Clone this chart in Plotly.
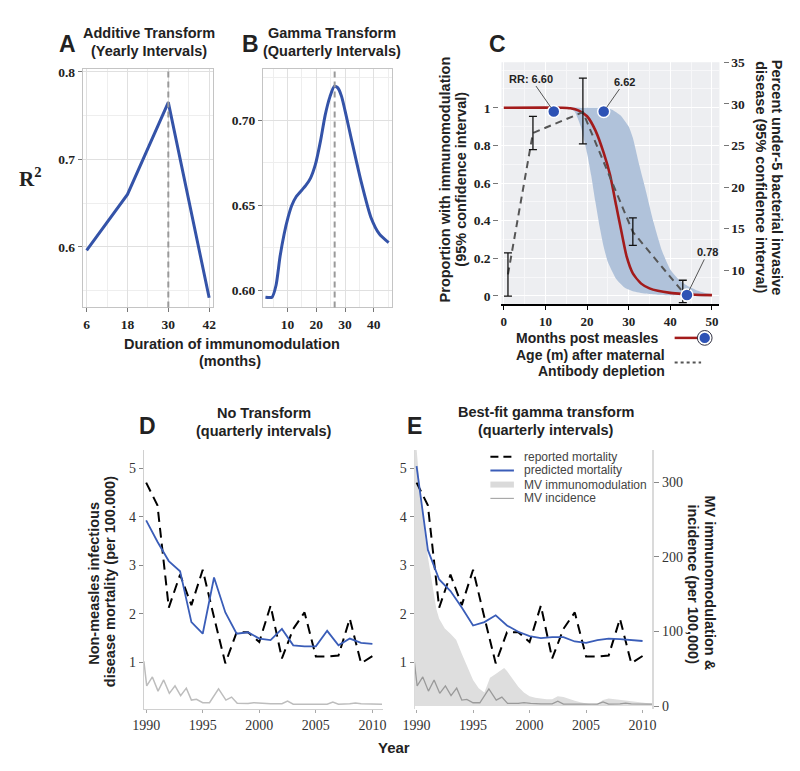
import plotly.graph_objects as go

W, H = 800, 771
OFF = 8  # page body margin shifts the figure by 8px


def PX(p): return (p - OFF) / W
def PY(p): return 1 - (p - OFF) / H


# ---------------- Panel A: additive transform (yearly intervals) ----------------
a_duration = [6, 18, 30, 42]
a_r2 = [0.596, 0.660, 0.765, 0.542]
a_best = 30
a_xticks = [6, 18, 30, 42]
a_xminor = [12, 24, 36]
a_yticks = [0.6, 0.7, 0.8]
a_yminor = [0.55, 0.65, 0.75]

# ---------------- Panel B: gamma transform (quarterly intervals) ----------------
b_duration = [2.3, 4.6, 6.0, 7.4, 8.8, 10.2, 11.5, 13.0, 16.3, 18.0, 19.7, 21.5, 23.1,
              24.8, 26.3, 27.5, 28.8, 30.5, 32.2, 35.6, 39.0, 42.0, 45.2]
b_r2 = [0.596, 0.596, 0.603, 0.620, 0.633, 0.643, 0.650, 0.655, 0.6615, 0.666, 0.674,
        0.688, 0.703, 0.714, 0.720, 0.719, 0.714, 0.702, 0.689, 0.664, 0.643, 0.633, 0.628]
b_best = 26.4
b_xticks = [10, 20, 30, 40]
b_xminor = [5, 15, 25, 35, 45]
b_yticks = [0.60, 0.65, 0.70]
b_yminor = [0.625, 0.675, 0.725]

# ---------------- Panel C ----------------
c_red_x = [0, 14, 16, 18, 20, 22, 24, 25.5, 27, 28, 29.5, 31, 33, 35, 37, 40, 43, 46, 50]
c_red_y = [1, 1, 0.997, 0.985, 0.955, 0.88, 0.76, 0.645, 0.48, 0.37, 0.21, 0.12, 0.065,
           0.04, 0.027, 0.016, 0.01, 0.006, 0.004]
c_up_x = [15.5, 20, 24, 26, 28, 30, 31, 32.5, 34, 36, 38, 40, 42, 44, 46, 48, 50]
c_up_y = [1, 1, 1, 0.99, 0.96, 0.90, 0.84, 0.70, 0.57, 0.39, 0.24, 0.14, 0.087, 0.055,
          0.033, 0.018, 0.008]
c_lo_x = [15.5, 17, 18.5, 20, 21, 22, 23, 24, 25, 27, 29, 31, 34, 37, 40, 50]
c_lo_y = [1, 0.98, 0.9, 0.76, 0.64, 0.5, 0.37, 0.26, 0.18, 0.09, 0.045, 0.025, 0.012,
          0.006, 0.003, 0]
c_age = [1, 7, 19, 31, 43]
c_pct = [9.5, 26.5, 29.0, 14.6, 7.4]
c_pct_hi = [12.1, 28.5, 33.1, 16.3, 8.8]
c_pct_lo = [6.9, 24.5, 25.2, 13.0, 6.1]
c_mark_x = [12, 24, 44]
c_mark_y = [0.98, 0.98, 0.005]
c_mark_lab = ["RR: 6.60", "6.62", "0.78"]
c_xticks = [0, 10, 20, 30, 40, 50]
c_yticks = [0, 0.2, 0.4, 0.6, 0.8, 1]
c_y2ticks = [10, 15, 20, 25, 30, 35]

# ---------------- Panels D / E ----------------
years = list(range(1990, 2011))
reported = [4.71, 4.24, 2.13, 2.81, 2.18, 2.91, 1.93, 0.98, 1.62, 1.62, 1.42, 2.17,
            1.08, 1.69, 2.03, 1.12, 1.12, 1.14, 1.90, 0.98, 1.13]
pred_none = [3.93, 3.49, 3.09, 2.88, 1.83, 1.59, 2.75, 2.03, 1.59, 1.62, 1.49, 1.46,
             1.69, 1.35, 1.33, 1.33, 1.65, 1.35, 1.49, 1.40, 1.38]
pred_gamma = [5.05, 3.32, 2.71, 2.47, 2.13, 1.76, 1.83, 1.97, 1.76, 1.63, 1.54, 1.50,
              1.52, 1.52, 1.43, 1.40, 1.46, 1.49, 1.48, 1.46, 1.44]
inc_t = [1989.8, 1990.05, 1990.55, 1991.05, 1991.55, 1992.05, 1992.55, 1993.05, 1993.55,
         1994.0, 1994.45, 1995.0, 1995.6, 1996.4, 1997.05, 1997.55, 1998.05, 1999.0,
         1999.5, 2000.1, 2001.0, 2002.0, 2002.5, 2003.0, 2004.0, 2005.0, 2006.0, 2006.5,
         2007.0, 2008.0, 2008.5, 2009.0, 2010.0, 2010.85]
inc_v = [60, 27, 39, 20, 35, 17, 27, 14, 24, 8, 9, 4.4, 4.4, 23, 8, 12, 3.6, 3.5, 4.5,
         3.5, 3, 3, 6.5, 2.5, 2.5, 2.5, 2.5, 5.5, 2.5, 3, 4, 3, 2.5, 2.5]
imm_t = [1989.83, 1990.0, 1990.25, 1990.5, 1990.75, 1991.0, 1991.25, 1991.5, 1991.75,
         1992.0, 1992.5, 1993.0, 1993.5, 1994.0, 1994.5, 1995.0, 1995.5, 1996.0, 1996.25,
         1996.5, 1997.0, 1997.5, 1997.75, 1998.0, 1998.5, 1999.0, 1999.5, 2000.0, 2000.5,
         2001.0, 2001.5, 2002.0, 2002.5, 2003.0, 2003.5, 2004.0, 2004.5, 2005.0, 2005.5,
         2006.0, 2006.5, 2007.0, 2007.5, 2008.0, 2008.5, 2009.0, 2009.5, 2010.0, 2010.5,
         2010.87]
imm_v = [360, 345, 300, 260, 228, 200, 175, 150, 130, 117, 104, 97, 89, 70, 52, 35, 24,
         18, 28, 38, 43, 48, 51, 47, 37, 26, 18, 13, 11, 10, 9, 9, 13, 12, 9, 7, 5, 3, 2,
         3, 8, 10, 9, 8, 7, 6, 5, 4, 3, 3]
de_xticks = [1990, 1995, 2000, 2005, 2010]
de_yticks = [1, 2, 3, 4, 5]
e_y2ticks = [0, 100, 200, 300]

BLUE = "#3453A8"
BLUE2 = "#3A5DB8"
RED = "#A31B1B"
SERIF_B = dict(family="Liberation Serif", size=13.5, color="#222", weight="bold")
SERIF_BC = dict(family="Liberation Serif", size=13, color="#222", weight="bold")
SERIF = dict(family="Liberation Serif", size=14, color="#333")

fig = go.Figure()

# A
fig.add_trace(go.Scatter(x=a_duration, y=a_r2, mode="lines",
                         line=dict(color=BLUE, width=3), xaxis="x", yaxis="y"))
# B
fig.add_trace(go.Scatter(x=b_duration, y=b_r2, mode="lines",
                         line=dict(color=BLUE, width=3, shape="spline", smoothing=0.6),
                         xaxis="x2", yaxis="y2"))
# C band + red
fig.add_trace(go.Scatter(x=c_up_x + c_lo_x[::-1], y=c_up_y + c_lo_y[::-1], mode="lines",
                         fill="toself", fillcolor="#B0C2DA",
                         line=dict(width=0, shape="spline", smoothing=0.5),
                         xaxis="x3", yaxis="y3"))
fig.add_trace(go.Scatter(x=c_red_x, y=c_red_y, mode="lines",
                         line=dict(color=RED, width=2.6, shape="spline", smoothing=0.6),
                         xaxis="x3", yaxis="y3"))
# C dashed + error bars
fig.add_trace(go.Scatter(x=c_age, y=c_pct, mode="lines",
                         line=dict(color="#555", width=2, dash="7px,5px"),
                         xaxis="x3", yaxis="y4"))
fig.add_trace(go.Scatter(x=c_age, y=c_pct, mode="markers",
                         marker=dict(size=2, color="rgba(0,0,0,0)"),
                         error_y=dict(type="data", symmetric=False,
                                      array=[h - c for h, c in zip(c_pct_hi, c_pct)],
                                      arrayminus=[c - l for c, l in zip(c_pct, c_pct_lo)],
                                      color="#111", thickness=1.3, width=4),
                         xaxis="x3", yaxis="y4"))
fig.add_trace(go.Scatter(x=c_mark_x, y=c_mark_y, mode="markers",
                         marker=dict(size=12, color="#2D52B5", line=dict(color="white", width=1.5)),
                         xaxis="x3", yaxis="y9"))
# D
fig.add_trace(go.Scatter(x=inc_t, y=inc_v, mode="lines", line=dict(color="#BDBDBD", width=1.5),
                         xaxis="x4", yaxis="y5"))
fig.add_trace(go.Scatter(x=years, y=reported, mode="lines",
                         line=dict(color="black", width=2, dash="10px,6px"), xaxis="x4", yaxis="y6"))
fig.add_trace(go.Scatter(x=years, y=pred_none, mode="lines",
                         line=dict(color=BLUE2, width=1.8), xaxis="x4", yaxis="y6"))
# E
fig.add_trace(go.Scatter(x=imm_t, y=imm_v, mode="lines", fill="tozeroy", fillcolor="#DEDEDE",
                         line=dict(width=0), xaxis="x5", yaxis="y7"))
fig.add_trace(go.Scatter(x=inc_t, y=inc_v, mode="lines", line=dict(color="#9A9A9A", width=1.3),
                         xaxis="x5", yaxis="y7"))
fig.add_trace(go.Scatter(x=years, y=reported, mode="lines",
                         line=dict(color="black", width=2, dash="10px,6px"), xaxis="x5", yaxis="y8"))
fig.add_trace(go.Scatter(x=years, y=pred_gamma, mode="lines",
                         line=dict(color=BLUE2, width=1.8), xaxis="x5", yaxis="y8"))


def ab_axis(domain, rng, tv, minor_tv, anchor, fmt=None):
    d = dict(domain=domain, range=rng, tickvals=tv, showgrid=True, gridcolor="#E0E0E0",
             gridwidth=1, minor=dict(tickvals=minor_tv, showgrid=True, gridcolor="#EEEEEE",
                                     ticks=""),
             ticks="outside", ticklen=4, tickcolor="#777", tickfont=SERIF_B,
             showline=True, linecolor="#C4C4C4", linewidth=1, mirror=True, zeroline=False,
             anchor=anchor, automargin=False)
    if fmt:
        d["tickformat"] = fmt
    return d


ABY = [PY(305), PY(63)]
CY = [PY(301.7), PY(56)]
DEY = [PY(713.3), PY(450)]
c_yrange = [-0.044, 1.242]
de_lrange = [0.03, 5.38]
de_rrange = [-4.4, 343]

layout = dict(
    width=W, height=H, margin=dict(l=0, r=0, t=0, b=0),
    plot_bgcolor="white", paper_bgcolor="white", showlegend=False,
    font=dict(family="Liberation Sans", color="#222"),
    xaxis=ab_axis([PX(72), PX(205)], [4.85, 43.15], a_xticks, a_xminor, "y"),
    yaxis=ab_axis(ABY, [0.531, 0.803], a_yticks, a_yminor, "x"),
    xaxis2=ab_axis([PX(256), PX(388)], [1.47, 46.5], b_xticks, b_xminor, "y2"),
    yaxis2=ab_axis(ABY, [0.590, 0.730], b_yticks, b_yminor, "x2", ".2f"),
    xaxis3=dict(domain=[PX(499.3), PX(721.7)], range=[-0.56, 51.8], tickvals=c_xticks,
                showgrid=True, gridcolor="white", gridwidth=1.2,
                minor=dict(dtick=5, tick0=0, showgrid=True, gridcolor="#F7F7F9", ticks=""),
                ticks="outside", ticklen=4, tickcolor="black", tickfont=SERIF_BC,
                showline=True, linecolor="black", linewidth=2, zeroline=False, anchor="y3"),
    yaxis3=dict(domain=CY, range=c_yrange, tickvals=c_yticks, showgrid=True,
                gridcolor="white", gridwidth=1.2,
                minor=dict(dtick=0.1, tick0=0, showgrid=True, gridcolor="#F7F7F9", ticks=""),
                ticks="outside", ticklen=5, tickcolor="#777", tickfont=SERIF_B,
                showline=False, zeroline=False, anchor="free", position=PX(496)),
    yaxis4=dict(overlaying="y3", side="right", range=[5.93, 35], tickvals=c_y2ticks,
                showgrid=False, ticks="outside", ticklen=5, tickcolor="#777",
                tickfont=SERIF_B, showline=False, zeroline=False, anchor="free",
                position=PX(725)),
    yaxis9=dict(overlaying="y3", range=c_yrange, visible=False),
    xaxis4=dict(domain=[PX(134.3), PX(378)], range=[1989.79, 2010.9], tickvals=de_xticks,
                showgrid=False, ticks="outside", ticklen=3, tickcolor="#AAA", tickfont=SERIF,
                showline=True, linecolor="#D0D0D0", linewidth=1, zeroline=False, anchor="y5"),
    yaxis5=dict(domain=DEY, range=de_rrange, visible=False, anchor="x4"),
    yaxis6=dict(overlaying="y5", side="left", range=de_lrange, tickvals=de_yticks,
                showgrid=False, ticks="outside", ticklen=4, tickcolor="#888", tickfont=SERIF,
                showline=True, linecolor="#D0D0D0", linewidth=1, zeroline=False, anchor="x4"),
    xaxis5=dict(domain=[PX(410.7), PX(653.3)], range=[1989.83, 2010.87], tickvals=de_xticks,
                showgrid=False, ticks="outside", ticklen=3, tickcolor="#AAA", tickfont=SERIF,
                showline=False, zeroline=False, anchor="y7"),
    yaxis7=dict(domain=DEY, range=de_rrange, side="right", tickvals=e_y2ticks,
                showgrid=False, ticks="outside", ticklen=5, tickcolor="#888", tickfont=SERIF,
                showline=True, linecolor="#DADADA", linewidth=1.5, zeroline=False,
                anchor="x5"),
    yaxis8=dict(overlaying="y7", side="left", range=de_lrange, tickvals=de_yticks,
                showgrid=False, ticks="outside", ticklen=4, tickcolor="#888", tickfont=SERIF,
                showline=True, linecolor="#DADADA", linewidth=1, zeroline=False, anchor="x5"),
)

shapes = [
    dict(type="rect", xref="x3 domain", yref="y3 domain", x0=0, x1=1, y0=0, y1=1,
         fillcolor="#EDEEF1", line=dict(width=0), layer="below"),
    dict(type="line", xref="x", yref="y domain", x0=a_best, x1=a_best, y0=0, y1=1,
         line=dict(color="#9A9A9A", width=2, dash="6px,4px"), layer="above"),
    dict(type="line", xref="x2", yref="y2 domain", x0=b_best, x1=b_best, y0=0, y1=1,
         line=dict(color="#9A9A9A", width=2, dash="6px,4px"), layer="above"),
    # C legend
    dict(type="line", xref="paper", yref="paper", x0=PX(676), x1=PX(700), y0=PY(336), y1=PY(336),
         line=dict(color=RED, width=2.5)),
    dict(type="circle", xref="paper", yref="paper", x0=PX(699.2), x1=PX(714.2), y0=PY(343.5),
         y1=PY(328.5), fillcolor="white", line=dict(color="#334", width=1)),
    dict(type="circle", xref="paper", yref="paper", x0=PX(701.4), x1=PX(712), y0=PY(341.3),
         y1=PY(330.7), fillcolor="#2D52B5", line=dict(width=0)),
    dict(type="line", xref="paper", yref="paper", x0=PX(676), x1=PX(703), y0=PY(361), y1=PY(361),
         line=dict(color="#555", width=2, dash="3px,3px")),
    # E legend
    dict(type="line", xref="paper", yref="paper", x0=PX(488), x1=PX(512), y0=PY(456.7), y1=PY(456.7),
         line=dict(color="black", width=2, dash="8px,5px")),
    dict(type="line", xref="paper", yref="paper", x0=PX(488), x1=PX(512), y0=PY(470.7), y1=PY(470.7),
         line=dict(color=BLUE2, width=2)),
    dict(type="line", xref="paper", yref="paper", x0=PX(488), x1=PX(512), y0=PY(485), y1=PY(485),
         line=dict(color="#DADADA", width=6)),
    dict(type="line", xref="paper", yref="paper", x0=PX(488), x1=PX(512), y0=PY(499), y1=PY(499),
         line=dict(color="#9A9A9A", width=1)),
]
layout["shapes"] = shapes


def ann(text, x, y, size=14.5, weight="bold", family="Liberation Sans", angle=0,
        xanchor="center", color="#222"):
    return dict(text=text, x=PX(x), y=PY(y), xref="paper", yref="paper", showarrow=False,
                font=dict(family=family, size=size, color=color, weight=weight),
                textangle=angle, xanchor=xanchor, yanchor="middle", borderpad=0)


annots = [
    ann("A", 56.7, 37, size=23),
    ann("Additive Transform", 139.3, 26.7),
    ann("(Yearly Intervals)", 139.3, 44.3),
    ann("B", 242.7, 37, size=23),
    ann("Gamma Transform", 326, 26.7),
    ann("(Quarterly Intervals)", 326, 44.3),
    ann("R<sup>2</sup>", 19, 173, size=21, family="Liberation Serif"),
    ann("Duration of immunomodulation", 224, 342),
    ann("(months)", 222, 359),
    ann("C", 495, 37, size=23),
    ann("Proportion with immunomodulation", 441.7, 175, angle=-90),
    ann("(95% confidence interval)", 458.3, 175, angle=-90),
    ann("Percent under-5 bacterial invasive", 780, 173, angle=90),
    ann("disease (95% confidence interval)", 763.3, 173, angle=90),
    ann("Months post measles", 661, 336.5, xanchor="right", size=14),
    ann("Age (m) after maternal", 667, 353, xanchor="right", size=14),
    ann("Antibody depletion", 667, 370, xanchor="right", size=14),
    ann("D", 138.3, 425, size=23),
    ann("No Transform", 256.7, 412.3),
    ann("(quarterly intervals)", 256.7, 430.7),
    ann("E", 410.7, 425.7, size=23),
    ann("Best-fit gamma transform", 544.3, 411.7),
    ann("(quarterly intervals)", 544.3, 430),
    ann("Non-measles infectious", 83.3, 585, angle=-90),
    ann("disease mortality (per 100.000)", 100, 584, angle=-90),
    ann("MV immunomodulation &", 711.7, 585, angle=90),
    ann("incidence (per 100,000)", 695, 586.7, angle=90),
    ann("Year", 390, 752, size=15),
    ann("reported mortality", 521.7, 456.7, size=12, weight="normal", xanchor="left", color="#444"),
    ann("predicted mortality", 521.7, 470.7, size=12, weight="normal", xanchor="left", color="#444"),
    ann("MV immunomodulation", 521.7, 485, size=12, weight="normal", xanchor="left", color="#444"),
    ann("MV incidence", 521.7, 499, size=12, weight="normal", xanchor="left", color="#444"),
]

# C marker labels (lines from label to marker)
lab_offsets = [(-23, -33), (21, -30), (21, -43)]
for mx, my, lab, (ax, ay) in zip(c_mark_x, c_mark_y, c_mark_lab, lab_offsets):
    annots.append(dict(text=lab, x=mx, y=my, xref="x3", yref="y9", ax=ax, ay=ay,
                       showarrow=True, arrowhead=0, arrowwidth=1, arrowcolor="#555",
                       standoff=5,
                       font=dict(family="Liberation Sans", size=11, color="#222", weight="bold")))

layout["annotations"] = annots
fig.update_layout(**layout)
fig.write_html("out.html")
